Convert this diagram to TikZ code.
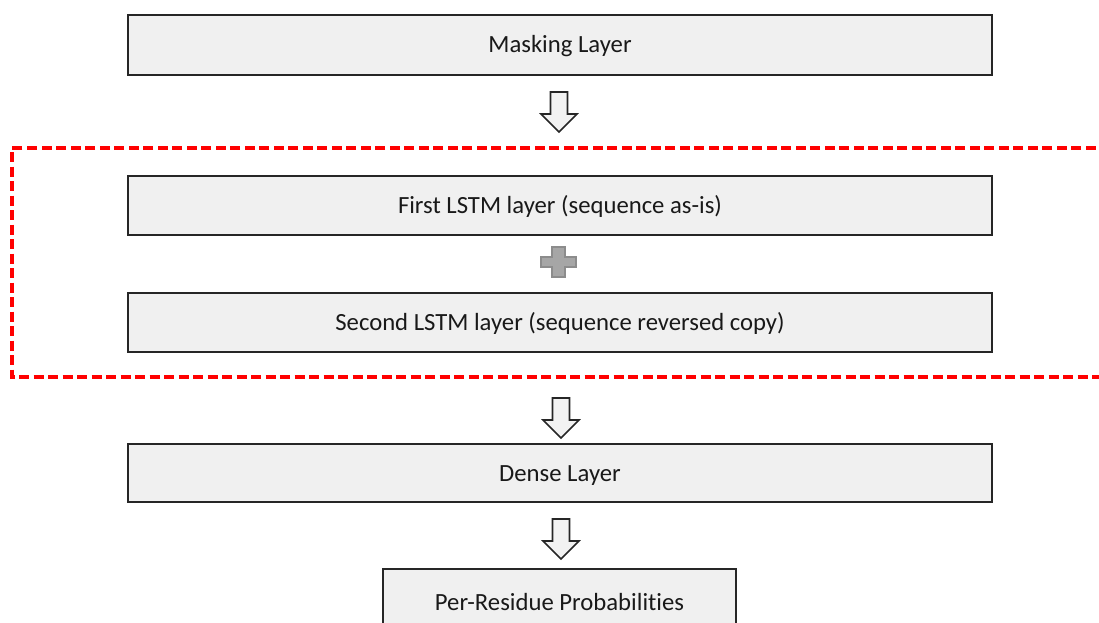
\documentclass[tikz,border=0pt]{standalone}
\usepackage{fontspec}
\setmainfont{Carlito}[Ligatures={NoCommon}]
\usetikzlibrary{calc}
\begin{document}
\begin{tikzpicture}[x=1pt,y=-1pt,
  labeltext/.style={font=\fontsize{24.7}{28}\selectfont, text=black!90,
    text height=16pt, text depth=0pt},
  layerbox/.style={labeltext, draw=black!85, line width=2pt, fill=black!6, inner sep=0pt},
  blockarrow/.style={draw=black!85, line width=1.6pt, fill=black!5, line join=miter},
  groupframe/.style={draw=red, line width=3.2pt, dash pattern=on 10pt off 4.5pt},
  plussign/.style={draw=black!45, line width=1.2pt, fill=black!35}
]
\useasboundingbox (0,0) rectangle (1099,623);
\clip (0,0) rectangle (1099,623);

% layer boxes
\node[layerbox, minimum width=864pt, minimum height=60pt] (mask) at (560,45) {Masking Layer};
\node[layerbox, minimum width=864pt, minimum height=59pt] (first) at (560,205.5) {First LSTM layer (sequence as-is)};
\node[layerbox, minimum width=864pt, minimum height=59pt] (second) at (560,322.5) {Second LSTM layer (sequence reversed copy)};
\node[layerbox, minimum width=864pt, minimum height=58pt] (dense) at (560,473) {Dense Layer};
\node[layerbox, minimum width=353pt, minimum height=90pt] (out) at (559.5,614) {};
\node[labeltext, inner sep=0pt] (outlabel) at (559.5,602) {Per-Residue Probabilities};

% bidirectional group frame (open on the right)
\coordinate (frameNE) at (1110,148);
\coordinate (frameSE) at (1110,377);
\draw[groupframe] (frameNE) -- (12,148) -- (12,377) -- (frameSE);

% plus sign between the two LSTM layers
\coordinate (plus) at (558.5,262);
\draw[plussign] ($(plus)+(-6.5,-15)$) -- ++(13,0) -- ++(0,10) -- ++(11,0) -- ++(0,10)
  -- ++(-11,0) -- ++(0,10) -- ++(-13,0) -- ++(0,-10) -- ++(-11,0) -- ++(0,-10)
  -- ++(11,0) -- cycle;

% block arrows between layers
\tikzset{downarrow/.pic={
  \draw[blockarrow] (-8.5,0) -- (8.5,0) -- (8.5,22) -- (18,22) -- (0,40)
    -- (-18,22) -- (-8.5,22) -- cycle;}}
\path (mask.south) ++(-1,16) coordinate (a1);
\path (second.south) ++(1,45) coordinate (a2);
\path (dense.south) ++(1,16) coordinate (a3);
\pic at (a1) {downarrow};
\pic at (a2) {downarrow};
\pic at (a3) {downarrow};
\end{tikzpicture}
\end{document}
